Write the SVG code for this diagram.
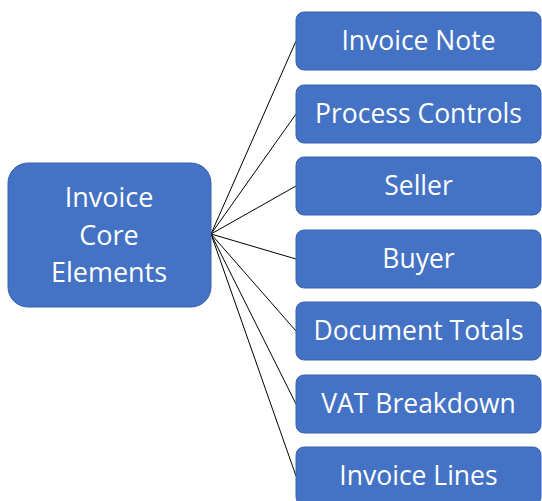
<svg xmlns="http://www.w3.org/2000/svg" width="542" height="501" viewBox="0 0 542 501">
<style>
.box{fill:#4472C4;stroke:#3A63AE;stroke-width:1}
.t{fill:#fff;font-family:"Open Sans","Noto Sans",sans-serif;font-size:26.5px;text-anchor:middle;dominant-baseline:central}
.c{fill:#fff;font-family:"Open Sans","Noto Sans",sans-serif;font-size:27px;text-anchor:middle}
.ln{stroke:#000;stroke-width:1;fill:none}
</style>
<rect width="542" height="501" fill="#fff"/>
<g id="connectors">
<line class="ln" x1="211" y1="234" x2="296" y2="41"/>
<line class="ln" x1="211" y1="234" x2="296" y2="114"/>
<line class="ln" x1="211" y1="234" x2="296" y2="186"/>
<line class="ln" x1="211" y1="234" x2="296" y2="259"/>
<line class="ln" x1="211" y1="234" x2="296" y2="331"/>
<line class="ln" x1="211" y1="234" x2="296" y2="404"/>
<line class="ln" x1="211" y1="234" x2="296" y2="476"/>
</g>
<g id="core">
<rect class="box" x="8" y="163" width="203" height="144" rx="20"/>
<text class="c" x="109" y="207">Invoice</text>
<text class="c" x="109" y="245">Core</text>
<text class="c" x="109" y="282">Elements</text>
</g>
<g id="n1"><rect class="box" x="296" y="12" width="245" height="58" rx="8"/><text class="t" x="418.5" y="40">Invoice Note</text></g>
<g id="n2"><rect class="box" x="296" y="85" width="245" height="58" rx="8"/><text class="t" x="418.5" y="113">Process Controls</text></g>
<g id="n3"><rect class="box" x="296" y="157" width="245" height="58" rx="8"/><text class="t" x="418.5" y="185">Seller</text></g>
<g id="n4"><rect class="box" x="296" y="230" width="245" height="58" rx="8"/><text class="t" x="418.5" y="258">Buyer</text></g>
<g id="n5"><rect class="box" x="296" y="302" width="245" height="58" rx="8"/><text class="t" x="418.5" y="330">Document Totals</text></g>
<g id="n6"><rect class="box" x="296" y="375" width="245" height="58" rx="8"/><text class="t" x="418.5" y="403">VAT Breakdown</text></g>
<g id="n7"><rect class="box" x="296" y="447" width="245" height="58" rx="8"/><text class="t" x="418.5" y="475">Invoice Lines</text></g>
</svg>
